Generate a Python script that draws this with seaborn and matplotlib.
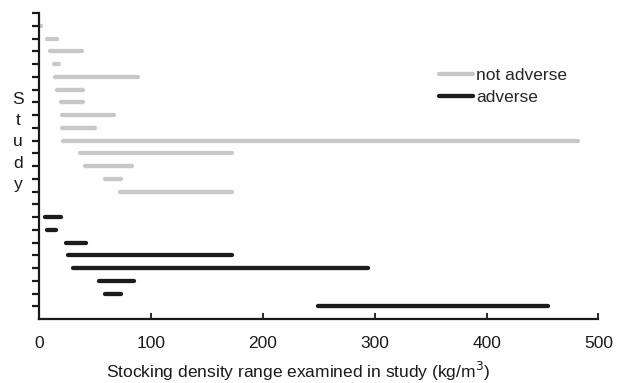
import matplotlib
matplotlib.use("Agg")
import matplotlib.pyplot as plt
import seaborn as sns
import pandas as pd

# Stocking density ranges examined per study (kg/m^3)
study = [23, 22, 21, 20, 19, 18, 17, 16, 15, 14, 13, 12, 11, 10,
         8, 7, 6, 5, 4, 3, 2, 1]
range_low = [1, 7, 10, 13, 14, 16, 19, 20, 20, 21, 36, 41, 59, 72,
             5, 7, 24, 26, 30, 53, 59, 249]
range_high = [1.5, 16, 38, 18, 88, 39, 39, 67, 50, 482, 172, 83, 73, 172,
              19, 15, 42, 172, 294, 85, 73, 455]
outcome = ["not adverse"] * 14 + ["adverse"] * 8

outcome_order = ["not adverse", "adverse"]
outcome_colors = {"not adverse": "#c8c8c8", "adverse": "#1c1c1c"}
x_ticks = [0, 100, 200, 300, 400, 500]

# long form: one row per range end
rows = []
for s, lo, hi, o in zip(study, range_low, range_high, outcome):
    rows.append({"study": s, "density": lo, "outcome": o})
    rows.append({"study": s, "density": hi, "outcome": o})
df = pd.DataFrame(rows)

sns.set_theme(style="ticks")
plt.rcParams["font.family"] = ["Liberation Sans", "DejaVu Sans"]

fig = plt.figure(figsize=(6.22, 3.83), dpi=100)
ax = fig.add_axes([0.0632, 0.1671, 0.899, 0.7989])

sns.lineplot(data=df, x="density", y="study", hue="outcome",
             hue_order=outcome_order, palette=outcome_colors,
             units="study", estimator=None, sort=True,
             linewidth=3.1, solid_capstyle="round", ax=ax)

ax.set_xlim(0, 500)
ax.set_ylim(0, 24)
ax.set_xticks(x_ticks)
ax.set_yticks(range(1, 25))
ax.set_yticklabels([])
ax.set_yticks([24], minor=True)

for side in ("top", "right"):
    ax.spines[side].set_visible(False)
for side in ("left", "bottom"):
    ax.spines[side].set_linewidth(1.6)
    ax.spines[side].set_color("#1a1a1a")

ax.tick_params(axis="y", which="major", direction="out", length=5,
               width=1.6, color="#1a1a1a")
ax.tick_params(axis="y", which="minor", direction="in", length=2.5,
               width=1.6, color="#1a1a1a")
ax.tick_params(axis="x", direction="in", length=4.5, width=1.3,
               color="#1a1a1a", pad=12, labelsize=12.5, labelcolor="#1a1a1a")

ax.set_xlabel("Stocking density range examined in study (kg/m$^3$)",
              fontsize=12.5, color="#1a1a1a")
ax.xaxis.set_label_coords(0.4635, -0.135)
ax.xaxis.label.set_va("top")

ax.set_ylabel("S\nt\nu\nd\ny", rotation=0, fontsize=12.5, color="#1a1a1a",
              linespacing=1.52, ha="center", va="center")
ax.yaxis.set_label_coords(-0.038, 0.579)

handles, labels = ax.get_legend_handles_labels()
ax.legend(handles, labels, loc="center left", bbox_to_anchor=(0.715, 0.76),
          frameon=False, fontsize=12.5, handlelength=1.95, handletextpad=0.2,
          labelspacing=0.4, borderaxespad=0, borderpad=0)

fig.savefig("out.png", dpi=100)
